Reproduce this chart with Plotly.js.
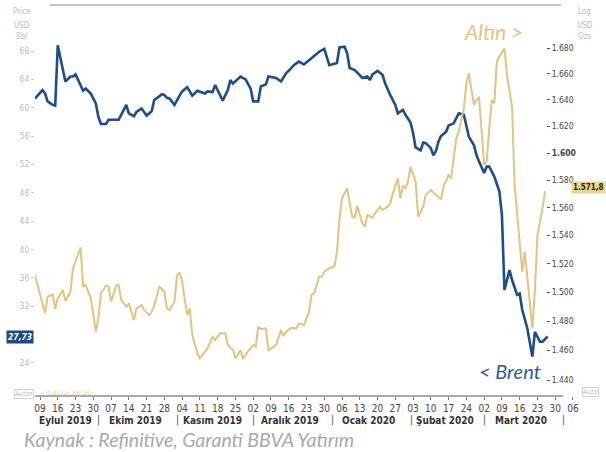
<!DOCTYPE html>
<html><head><meta charset="utf-8">
<script src="https://cdn.plot.ly/plotly-3.0.1.min.js"></script>
<style>html,body{margin:0;padding:0;background:#fff}#chart{width:606px;height:452px}</style>
</head><body><div id="chart"></div>
<script>
const brentDates = ['2019-09-07','2019-09-10','2019-09-11','2019-09-12','2019-09-14','2019-09-15','2019-09-16','2019-09-18','2019-09-19','2019-09-21','2019-09-22','2019-09-23','2019-09-25','2019-09-26','2019-09-27','2019-09-29','2019-10-01','2019-10-02','2019-10-03','2019-10-05','2019-10-06','2019-10-08','2019-10-10','2019-10-11','2019-10-13','2019-10-14','2019-10-16','2019-10-17','2019-10-19','2019-10-20','2019-10-21','2019-10-23','2019-10-24','2019-10-26','2019-10-27','2019-10-28','2019-10-29','2019-10-30','2019-11-01','2019-11-03','2019-11-04','2019-11-06','2019-11-08','2019-11-10','2019-11-12','2019-11-13','2019-11-14','2019-11-16','2019-11-17','2019-11-18','2019-11-20','2019-11-22','2019-11-23','2019-11-24','2019-11-27','2019-11-29','2019-12-01','2019-12-02','2019-12-04','2019-12-05','2019-12-07','2019-12-08','2019-12-10','2019-12-11','2019-12-13','2019-12-15','2019-12-16','2019-12-18','2019-12-20','2019-12-22','2019-12-24','2019-12-26','2019-12-28','2019-12-30','2020-01-01','2020-01-04','2020-01-05','2020-01-07','2020-01-08','2020-01-09','2020-01-11','2020-01-13','2020-01-14','2020-01-16','2020-01-17','2020-01-18','2020-01-20','2020-01-22','2020-01-23','2020-01-25','2020-01-27','2020-01-28','2020-01-30','2020-01-31','2020-02-02','2020-02-03','2020-02-04','2020-02-06','2020-02-07','2020-02-08','2020-02-10','2020-02-11','2020-02-12','2020-02-13','2020-02-14','2020-02-16','2020-02-17','2020-02-19','2020-02-20','2020-02-21','2020-02-23','2020-02-24','2020-02-25','2020-02-27','2020-02-28','2020-02-29','2020-03-02','2020-03-03','2020-03-04','2020-03-06','2020-03-08','2020-03-09','2020-03-10','2020-03-12','2020-03-13','2020-03-15','2020-03-16','2020-03-17','2020-03-18','2020-03-19','2020-03-21','2020-03-22','2020-03-24','2020-03-25','2020-03-27'];
const brentValues = [61.3,62.5,62.0,60.9,60.4,60.3,68.8,65.1,63.7,64.4,64.4,64.7,63.0,62.4,62.7,62.0,60.6,58.7,57.7,57.7,58.3,58.3,58.3,59.0,60.4,59.2,58.8,59.4,59.9,59.4,58.9,59.5,61.1,61.6,61.9,61.8,61.4,61.3,60.4,61.7,62.3,62.9,61.7,62.4,62.2,62.0,62.3,62.2,63.2,62.5,61.0,62.5,63.9,63.4,64.4,64.0,62.7,60.9,60.9,63.0,63.3,64.4,64.2,64.2,63.7,64.9,65.2,66.0,66.5,66.1,66.7,67.3,67.9,68.3,66.0,66.3,68.5,68.6,67.7,65.6,65.3,64.6,64.2,64.4,63.9,64.7,65.2,64.6,63.4,61.8,60.4,59.2,59.7,59.0,57.9,56.4,54.4,54.0,55.1,55.0,54.3,53.3,53.9,55.2,56.0,56.6,57.5,57.8,58.5,59.2,59.0,57.6,55.9,54.7,53.3,52.4,50.8,51.7,51.7,50.3,48.2,44.9,34.3,37.1,35.7,33.6,33.8,31.5,30.1,28.9,24.9,28.4,27.0,27.0,27.73];

const goldDates = ['2019-09-07','2019-09-09','2019-09-11','2019-09-12','2019-09-14','2019-09-15','2019-09-16','2019-09-18','2019-09-19','2019-09-21','2019-09-22','2019-09-23','2019-09-25','2019-09-26','2019-09-27','2019-09-29','2019-10-01','2019-10-02','2019-10-03','2019-10-05','2019-10-06','2019-10-07','2019-10-09','2019-10-10','2019-10-11','2019-10-13','2019-10-14','2019-10-16','2019-10-17','2019-10-19','2019-10-20','2019-10-22','2019-10-23','2019-10-24','2019-10-26','2019-10-28','2019-10-29','2019-10-30','2019-11-01','2019-11-02','2019-11-03','2019-11-04','2019-11-06','2019-11-07','2019-11-08','2019-11-10','2019-11-11','2019-11-12','2019-11-14','2019-11-16','2019-11-17','2019-11-19','2019-11-21','2019-11-22','2019-11-24','2019-11-25','2019-11-27','2019-11-28','2019-11-30','2019-12-02','2019-12-03','2019-12-04','2019-12-05','2019-12-07','2019-12-08','2019-12-10','2019-12-11','2019-12-13','2019-12-14','2019-12-15','2019-12-17','2019-12-19','2019-12-20','2019-12-22','2019-12-24','2019-12-25','2019-12-26','2019-12-28','2019-12-29','2019-12-30','2020-01-01','2020-01-03','2020-01-04','2020-01-05','2020-01-06','2020-01-08','2020-01-09','2020-01-10','2020-01-11','2020-01-12','2020-01-14','2020-01-15','2020-01-16','2020-01-18','2020-01-19','2020-01-21','2020-01-22','2020-01-24','2020-01-25','2020-01-26','2020-01-28','2020-01-29','2020-01-30','2020-01-31','2020-02-01','2020-02-02','2020-02-04','2020-02-05','2020-02-07','2020-02-08','2020-02-10','2020-02-12','2020-02-14','2020-02-15','2020-02-17','2020-02-18','2020-02-19','2020-02-20','2020-02-21','2020-02-23','2020-02-24','2020-02-25','2020-02-26','2020-02-27','2020-02-28','2020-02-29','2020-03-02','2020-03-03','2020-03-04','2020-03-05','2020-03-06','2020-03-07','2020-03-08','2020-03-10','2020-03-11','2020-03-13','2020-03-14','2020-03-16','2020-03-17','2020-03-18','2020-03-20','2020-03-21','2020-03-22','2020-03-23','2020-03-25','2020-03-26'];
const goldValues = [1512.0,1498.0,1485.3,1496.8,1498.4,1488.3,1495.7,1501.4,1493.8,1500.3,1516.7,1521.3,1531.3,1503.8,1505.0,1495.7,1472.7,1481.9,1499.2,1504.5,1503.8,1493.3,1504.5,1505.0,1494.5,1489.9,1492.2,1480.7,1488.7,1491.0,1487.6,1484.1,1486.4,1490.6,1503.8,1500.3,1488.7,1487.6,1493.3,1512.0,1513.8,1507.2,1484.1,1488.7,1470.4,1458.0,1454.6,1456.8,1461.3,1469.2,1467.0,1471.6,1471.6,1463.6,1460.2,1454.6,1460.2,1454.1,1459.5,1463.6,1462.4,1476.1,1474.5,1475.0,1460.2,1462.4,1463.6,1473.8,1469.7,1472.7,1475.4,1475.0,1478.4,1477.3,1486.4,1498.0,1499.2,1510.7,1510.7,1514.3,1516.7,1517.8,1528.4,1552.3,1566.8,1574.1,1561.9,1553.4,1552.7,1561.4,1548.7,1546.2,1554.7,1552.7,1555.9,1560.7,1558.3,1560.7,1563.1,1570.4,1581.4,1566.8,1576.0,1574.1,1578.9,1589.9,1578.9,1553.4,1560.7,1569.2,1572.8,1569.2,1566.0,1575.2,1583.8,1581.4,1598.6,1611.0,1616.0,1633.6,1652.7,1660.4,1647.6,1636.1,1639.9,1642.4,1591.2,1593.6,1618.5,1639.9,1637.4,1669.4,1673.2,1679.8,1659.1,1634.8,1576.5,1530.8,1514.3,1528.4,1493.3,1475.0,1501.4,1540.3,1559.5,1571.8];

const leftTicks = [24,32,36,40,44,48,52,56,60,64,68];
const rightTicks = [1440,1460,1480,1500,1520,1540,1560,1580,1600,1620,1640,1660,1680];
const monthNames = ['Eylul 2019','Ekim 2019','Kasım 2019','Aralık 2019','Ocak 2020','Şubat 2020','Mart 2020'];
const monthStarts = ['2019-09-01','2019-10-01','2019-11-01','2019-12-01','2020-01-01','2020-02-01','2020-03-01','2020-04-01'];

const xRange = ['2019-09-07 00:45','2020-04-08 18:30'];
const fmtThousands = (v, dec) => {
  const [i, f] = v.toFixed(dec).split('.');
  const ii = i.replace(/\B(?=(\d{3})+(?!\d))/g, '.');
  return f !== undefined ? ii + ',' + f : ii;
};
const rightTickText = rightTicks.map(v => v === 1600 ? '<b>' + fmtThousands(v, 0) + '</b>' : fmtThousands(v, 0));

const tickFont = 'Liberation Sans Narrow, DejaVu Sans Condensed, Arial Narrow, sans-serif';
const BLUE = '#1c4d8c', GOLD = '#e2c47e';

const toMs = s => new Date(s.replace(' ', 'T') + (s.length > 10 ? ':00' : 'T00:00:00')).getTime();
const msToStr = ms => { const d = new Date(ms); const p = n => String(n).padStart(2, '0');
  return d.getFullYear() + '-' + p(d.getMonth() + 1) + '-' + p(d.getDate()) + ' ' + p(d.getHours()) + ':' + p(d.getMinutes()); };

const annotations = [];
const startMs = toMs(xRange[0]);
for (let i = 0; i < monthNames.length; i++) {
  const a = Math.max(toMs(monthStarts[i]), startMs), b = toMs(monthStarts[i + 1]);
  annotations.push({xref: 'x', yref: 'paper', x: msToStr((a + b) / 2), y: -0.062, text: '<b>' + monthNames[i] + '</b>',
    showarrow: false, font: {family: tickFont, size: 10, color: '#333'}, xanchor: 'center', yanchor: 'middle'});
  annotations.push({xref: 'x', yref: 'paper', x: monthStarts[i + 1], y: -0.062, text: '|', xshift: 3,
    showarrow: false, font: {family: tickFont, size: 10, color: '#444'}, xanchor: 'center', yanchor: 'middle'});
}
const grey = '#bdbdbd';
[['Price', 0.983], ['USD', 0.947], ['Bbl', 0.919]].forEach(([t, y]) => annotations.push({xref: 'paper', yref: 'paper', x: -0.024, y: y, text: t, showarrow: false, xanchor: 'center', yanchor: 'middle', font: {family: tickFont, size: 8, color: grey}}));
[['Log', 0.983], ['USD', 0.947], ['Ozs', 0.919]].forEach(([t, y]) => annotations.push({xref: 'paper', yref: 'paper', x: 1.009, y: y, text: t, showarrow: false, xanchor: 'center', yanchor: 'middle', font: {family: tickFont, size: 8, color: grey}}));

annotations.push({xref: 'paper', yref: 'y', x: 0, y: brentValues[brentValues.length - 1], xanchor: 'right', yanchor: 'middle', xshift: -1,
  text: '<b><i>' + brentValues[brentValues.length - 1].toFixed(2).replace('.', ',') + '</i></b>', showarrow: false,
  bgcolor: '#1b4a87', borderpad: 1, font: {family: tickFont, size: 8.5, color: '#fff'}});
annotations.push({xref: 'paper', yref: 'y2', x: 1.0, y: Math.log10(goldValues[goldValues.length - 1]), xanchor: 'right', yanchor: 'middle', yshift: 4, xshift: 26,
  text: '<b>' + fmtThousands(goldValues[goldValues.length - 1], 1) + '</b>', showarrow: false,
  bgcolor: '#ecd58a', borderpad: 1, font: {family: tickFont, size: 8, color: '#222'}});

annotations.push({xref: 'paper', yref: 'paper', x: 0.842, y: 0.931, text: '<i>Altın &gt;</i>', showarrow: false, xanchor: 'center', yanchor: 'middle',
  font: {family: 'Lato, Open Sans, sans-serif', size: 21, color: GOLD}});
annotations.push({xref: 'paper', yref: 'paper', x: 0.872, y: 0.064, text: '<i>&lt; Brent</i>', showarrow: false, xanchor: 'center', yanchor: 'middle',
  font: {family: 'Lato, Open Sans, sans-serif', size: 20, color: '#2d5d9b'}});
annotations.push({xref: 'paper', yref: 'paper', x: -0.024, y: -0.112, text: '<i>Kaynak : Refinitive, Garanti BBVA Yatırım</i>', showarrow: false, xanchor: 'left', yanchor: 'middle',
  font: {family: 'Lato, Open Sans, sans-serif', size: 19.5, color: '#a9a9a9'}});
annotations.push({xref: 'paper', yref: 'paper', x: -0.021, y: 0.006, text: 'Autor', showarrow: false, xanchor: 'center', yanchor: 'middle',
  bordercolor: '#d0d0d0', borderwidth: 1, borderpad: 0, font: {family: tickFont, size: 7, color: '#c0c0c0'}});
annotations.push({xref: 'paper', yref: 'paper', x: 1.02, y: 0.01, text: 'Auto', showarrow: false, xanchor: 'center', yanchor: 'middle',
  bordercolor: '#d0d0d0', borderwidth: 1, borderpad: 0, font: {family: tickFont, size: 7, color: '#c0c0c0'}});
annotations.push({xref: 'paper', yref: 'paper', x: 0.005, y: 0.01, text: '~ Yl.Bil (ar: Bbl,arl)', showarrow: false, xanchor: 'left', yanchor: 'middle',
  font: {family: tickFont, size: 6, color: '#e3d08e'}});

const data = [
  {x: goldDates, y: goldValues, yaxis: 'y2', type: 'scatter', mode: 'lines', line: {color: GOLD, width: 2}, name: 'Altın', hoverinfo: 'skip'},
  {x: brentDates, y: brentValues, yaxis: 'y', type: 'scatter', mode: 'lines', line: {color: BLUE, width: 2.6}, name: 'Brent', hoverinfo: 'skip'}
];

const layout = {
  width: 606, height: 452,
  margin: {l: 35, r: 26, t: 5, b: 56},
  paper_bgcolor: '#fff', plot_bgcolor: '#fff',
  showlegend: false,
  xaxis: {type: 'date', range: xRange, tick0: '2019-09-09', dtick: 7 * 86400000, tickformat: '%d',
    showgrid: false, zeroline: false, showline: false, ticks: 'outside', ticklen: 3, tickcolor: '#777',
    tickfont: {family: tickFont, size: 10, color: '#444'}},
  yaxis: {range: [19.34, 74.49], tickvals: leftTicks, showgrid: false, zeroline: false, showline: false,
    ticks: 'outside', ticklen: 3, tickcolor: '#ccc', tickfont: {family: tickFont, size: 8.5, color: '#bcbcbc'}},
  yaxis2: {type: 'log', overlaying: 'y', anchor: 'free', position: 0.9376, side: 'right',
    range: [3.15515, 3.23398], tickvals: rightTicks, ticktext: rightTickText,
    showgrid: false, zeroline: false, showline: false, ticks: 'outside', ticklen: 3, tickcolor: '#555',
    tickfont: {family: tickFont, size: 8.5, color: '#444'}},
  shapes: [
    {type: 'line', xref: 'paper', yref: 'paper', x0: 0, x1: 0.969, y0: 0, y1: 0, line: {color: '#555', width: 1}},
    {type: 'line', xref: 'paper', yref: 'paper', x0: 0.027, x1: 0.965, y0: 1, y1: 1, line: {color: '#888', width: 1}}
  ],
  annotations: annotations
};
Plotly.newPlot('chart', data, layout, {staticPlot: true, displayModeBar: false});
</script></body></html>
